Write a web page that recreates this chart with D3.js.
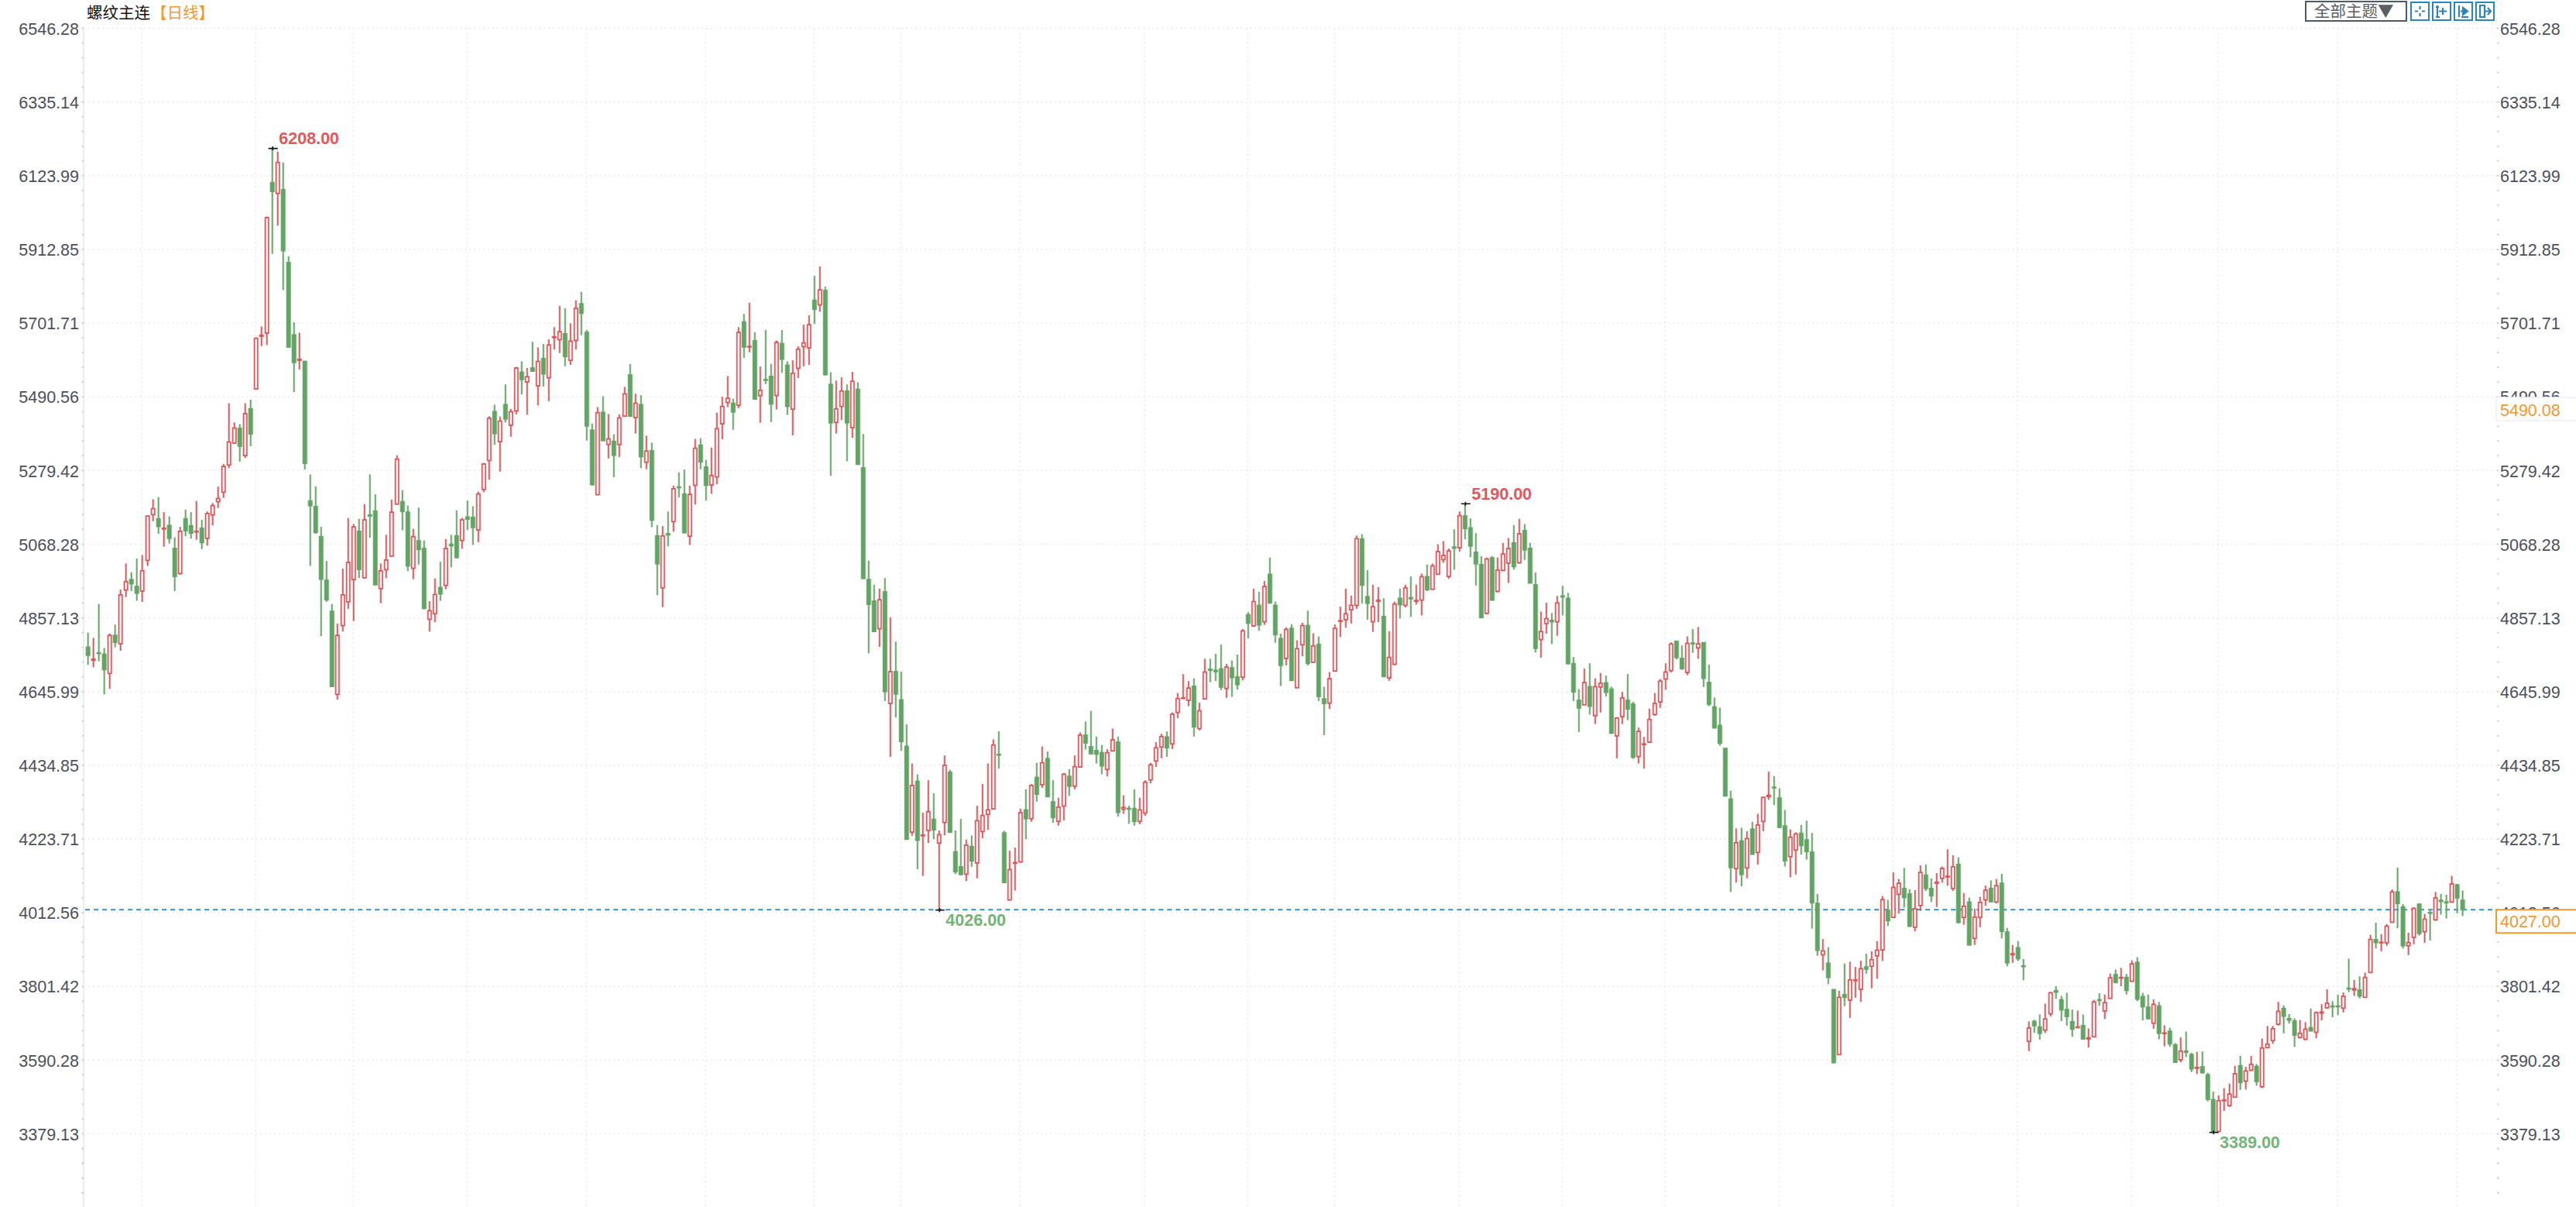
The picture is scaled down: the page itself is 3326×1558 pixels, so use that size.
<!DOCTYPE html>
<html><head><meta charset="utf-8">
<script src="https://cdn.jsdelivr.net/npm/d3@7/dist/d3.min.js"></script>
<style>
html,body{margin:0;padding:0;background:#fff}
svg{display:block}
text{font-family:"Liberation Sans",Arial,sans-serif}
.cjk{font-family:"Noto Sans CJK SC","Liberation Sans",sans-serif}
</style></head><body>
<svg id="c" width="3326" height="1558"></svg>
<script>
const highs=[
4821,4806,4903,4777,4818,4844,4944,5019,4994,5033,
5043,5156,5203,5209,5166,5154,5094,5124,5173,5166,
5198,5144,5168,5192,5239,5304,5478,5423,5418,5478,
5488,5667,5698,6013,6208,6199,6168,5899,5710,5680,
5599,5274,5240,5124,5026,4903,4847,5004,5149,5132,
5147,5189,5274,5217,5019,5101,5202,5329,5229,5185,
5118,5179,5085,4911,4976,5024,5089,5101,5171,5150,
5199,5183,5225,5307,5441,5474,5440,5532,5462,5582,
5598,5579,5654,5638,5648,5661,5696,5757,5750,5707,
5773,5797,5688,5420,5467,5498,5447,5389,5446,5525,
5590,5505,5501,5385,5365,5129,5126,5168,5242,5280,
5288,5242,5376,5378,5316,5351,5451,5497,5556,5491,
5696,5734,5766,5681,5583,5688,5591,5658,5688,5598,
5601,5641,5703,5730,5843,5870,5812,5567,5543,5552,
5532,5568,5538,5390,5027,4958,4947,4977,4865,4795,
4709,4558,4446,4415,4305,4398,4361,4254,4469,4428,
4254,4287,4228,4240,4325,4387,4446,4515,4538,4253,
4196,4205,4317,4372,4387,4448,4495,4480,4398,4348,
4419,4430,4469,4535,4566,4597,4523,4499,4487,4546,
4523,4355,4325,4372,4348,4398,4448,4507,4531,4538,
4593,4648,4702,4682,4690,4620,4746,4746,4760,4787,
4731,4741,4758,4831,4880,4947,4938,4969,5036,4910,
4818,4836,4845,4799,4849,4884,4819,4810,4666,4708,
4844,4895,4947,4927,5099,5103,5000,4958,4951,4919,
4825,4910,4947,4958,4982,4958,4990,5016,5019,5074,
5083,5062,5117,5168,5190,5148,5106,5040,5036,5040,
5036,5078,5092,5129,5147,5132,5078,4993,4881,4907,
4877,4926,4955,4935,4751,4659,4718,4733,4690,4705,
4698,4666,4579,4651,4702,4623,4549,4522,4603,4648,
4688,4733,4793,4798,4784,4810,4831,4837,4792,4729,
4635,4606,4491,4368,4260,4262,4252,4279,4302,4349,
4423,4410,4375,4313,4257,4249,4270,4282,4247,4072,
3943,3920,3799,3795,3873,3878,3863,3881,3901,3908,
3937,4066,4055,4134,4115,4147,4086,4083,4154,4157,
4117,4132,4151,4200,4183,4177,4075,4062,4030,4064,
4096,4111,4115,4130,3975,3926,3937,3886,3707,3712,
3727,3758,3792,3808,3780,3789,3741,3738,3727,3687,
3769,3788,3784,3844,3856,3860,3843,3882,3891,3789,
3784,3770,3763,3696,3689,3645,3662,3678,3617,3620,
3621,3560,3506,3495,3516,3529,3580,3608,3577,3608,
3585,3658,3694,3694,3763,3753,3728,3716,3711,3705,
3744,3736,3756,3799,3765,3784,3790,3887,3826,3836,
3847,3955,3990,3957,3986,4085,4148,4043,3961,4034,
4044,4015,4027,4078,4072,4070,4124,4101,4082];
const lows=[
4729,4722,4739,4644,4660,4779,4769,4923,4940,4912,
4909,5012,5140,5104,5067,5076,4940,4987,5097,5090,
5087,5060,5070,5128,5178,5207,5292,5362,5311,5321,
5355,5517,5642,5645,5906,5987,5802,5639,5510,5575,
5288,5012,5104,4811,4909,4665,4629,4824,4889,4854,
4977,4977,5093,4958,4905,4977,5040,5189,5114,4997,
4974,5016,4890,4824,4851,4912,4945,5008,5034,5061,
5115,5072,5080,5223,5259,5359,5282,5423,5382,5446,
5503,5445,5569,5472,5526,5484,5632,5622,5584,5588,
5632,5673,5371,5242,5216,5371,5320,5266,5324,5441,
5441,5391,5292,5289,5123,4928,4894,5068,5110,5208,
5107,5072,5188,5289,5199,5219,5246,5375,5467,5402,
5464,5608,5624,5488,5422,5533,5424,5460,5565,5445,
5386,5550,5584,5588,5705,5740,5558,5270,5391,5430,
5312,5379,5302,4976,4762,4824,4780,4625,4465,4578,
4482,4229,4239,4143,4124,4218,4229,4026,4240,4249,
4129,4126,4109,4150,4117,4232,4256,4315,4431,4105,
4054,4082,4162,4229,4279,4337,4376,4351,4276,4268,
4283,4353,4372,4434,4486,4473,4446,4415,4409,4482,
4294,4302,4273,4268,4272,4296,4389,4436,4461,4465,
4487,4576,4631,4610,4523,4541,4629,4679,4682,4656,
4634,4637,4658,4684,4804,4840,4826,4843,4904,4792,
4668,4727,4684,4662,4753,4727,4734,4625,4527,4602,
4710,4808,4835,4847,4889,4904,4858,4823,4851,4695,
4683,4728,4861,4893,4866,4901,4870,4940,4944,4987,
5021,4975,5001,5053,5088,5037,4956,4862,4873,4913,
4936,4998,4963,5001,5018,5029,4963,4764,4749,4818,
4788,4812,4870,4730,4625,4536,4614,4586,4559,4592,
4638,4531,4461,4559,4570,4459,4446,4431,4505,4583,
4605,4657,4707,4744,4714,4699,4763,4746,4665,4610,
4548,4497,4353,4078,4105,4094,4117,4185,4156,4252,
4342,4327,4262,4151,4120,4128,4185,4171,3973,3895,
3853,3814,3587,3611,3751,3717,3775,3763,3844,3802,
3829,3880,3980,4003,4016,4033,3977,3965,4024,4081,
4049,4035,4105,4096,4081,3987,3984,3926,3926,3977,
4038,4048,4045,3945,3865,3875,3880,3825,3622,3674,
3655,3674,3721,3772,3708,3695,3663,3690,3655,3632,
3662,3752,3714,3773,3816,3808,3784,3821,3765,3710,
3713,3686,3656,3636,3634,3590,3590,3605,3562,3556,
3558,3478,3389,3390,3451,3462,3490,3511,3512,3565,
3523,3516,3631,3643,3695,3673,3701,3634,3658,3653,
3679,3659,3710,3743,3719,3725,3733,3791,3780,3773,
3776,3847,3916,3908,3924,3990,3974,3916,3897,3928,
3953,3932,3939,3995,4013,4002,4047,4017,4009];
const opens=[
4779,4742,4763,4759,4704,4813,4789,4943,4973,4953,
4940,5028,5159,5147,5118,5128,5062,4990,5147,5127,
5110,5120,5091,5158,5196,5223,5301,5364,5406,5328,
5462,5519,5670,5679,6110,6079,6090,5881,5674,5601,
5598,5198,5182,5096,4971,4882,4644,4841,4909,4973,
5111,4978,5158,5169,4947,5001,5040,5189,5196,5166,
5005,5084,5062,4859,4875,4950,4956,5074,5098,5085,
5152,5151,5115,5231,5314,5454,5368,5474,5415,5456,
5567,5539,5579,5528,5606,5551,5667,5660,5677,5601,
5658,5763,5681,5401,5216,5452,5360,5369,5360,5441,
5559,5437,5474,5309,5342,5098,4949,5104,5139,5238,
5218,5097,5243,5358,5295,5244,5267,5419,5480,5478,
5472,5711,5640,5657,5500,5546,5555,5500,5649,5587,
5461,5578,5640,5637,5773,5760,5801,5532,5423,5469,
5513,5408,5518,5293,4973,4911,4832,4938,4618,4709,
4628,4495,4249,4395,4239,4254,4286,4218,4277,4421,
4193,4150,4129,4208,4161,4251,4300,4316,4472,4247,
4055,4161,4164,4313,4288,4406,4385,4460,4336,4280,
4324,4409,4381,4436,4527,4494,4483,4477,4429,4482,
4507,4315,4317,4317,4280,4304,4399,4453,4493,4522,
4502,4592,4633,4627,4667,4546,4631,4716,4713,4717,
4661,4720,4694,4693,4872,4840,4899,4852,4988,4899,
4804,4747,4833,4663,4786,4841,4736,4787,4631,4619,
4711,4853,4858,4886,4899,5089,4924,4852,4911,4867,
4691,4730,4919,4899,4921,4911,4914,4981,4945,4988,
5030,4982,5066,5064,5155,5121,5051,5016,4876,5035,
4939,4999,5020,5078,5021,5113,5062,4958,4801,4847,
4856,4852,4926,4919,4732,4627,4614,4666,4583,4665,
4677,4659,4525,4580,4627,4616,4466,4501,4507,4586,
4622,4688,4712,4796,4747,4707,4791,4777,4792,4678,
4608,4555,4489,4344,4145,4224,4147,4258,4191,4280,
4351,4378,4347,4267,4179,4198,4246,4227,4192,4045,
3898,3874,3798,3612,3784,3768,3824,3799,3863,3865,
3895,3912,4025,4005,4071,4088,4072,3977,4039,4126,
4088,4103,4117,4121,4088,4157,4005,4049,3945,4005,
4055,4088,4049,4103,3963,3898,3918,3866,3650,3707,
3691,3682,3729,3795,3769,3741,3706,3690,3695,3657,
3663,3769,3737,3773,3841,3831,3833,3822,3876,3778,
3748,3702,3751,3673,3679,3640,3597,3622,3612,3573,
3577,3554,3483,3392,3480,3466,3490,3580,3536,3567,
3578,3520,3632,3652,3699,3744,3715,3708,3661,3656,
3689,3676,3731,3746,3751,3751,3745,3802,3797,3797,
3776,3847,3941,3933,3932,3991,4078,4035,3924,3948,
4043,3964,4019,3998,4054,4049,4049,4098,4054];
const closes=[
4756,4745,4762,4715,4813,4793,4929,4967,4961,4934,
4998,5155,5176,5125,5120,5091,4982,5111,5113,5106,
5111,5079,5162,5185,5205,5297,5367,5407,5355,5448,
5390,5664,5673,6010,6085,6168,5915,5639,5595,5604,
5306,5185,5108,4974,4915,4667,4813,4929,5022,5124,
5002,5144,5155,4958,4998,5029,5166,5318,5168,5012,
5096,5059,4890,4884,4930,4932,5062,5070,5036,5144,
5146,5122,5218,5304,5435,5391,5427,5433,5454,5579,
5546,5554,5570,5598,5562,5645,5668,5683,5612,5656,
5750,5736,5413,5245,5451,5371,5376,5329,5436,5505,
5441,5478,5325,5341,5143,5018,5098,5101,5233,5237,
5107,5217,5349,5310,5243,5271,5405,5469,5492,5453,
5681,5639,5641,5490,5515,5544,5476,5652,5604,5469,
5564,5633,5651,5703,5747,5803,5560,5422,5462,5513,
5422,5541,5303,4976,4902,4824,4915,4652,4709,4645,
4509,4229,4383,4226,4241,4308,4256,4242,4441,4249,
4136,4128,4212,4167,4282,4297,4313,4499,4471,4105,
4142,4162,4305,4288,4383,4358,4448,4351,4291,4321,
4415,4381,4437,4527,4505,4474,4473,4439,4477,4514,
4306,4320,4316,4280,4313,4392,4442,4491,4523,4491,
4587,4632,4634,4662,4551,4597,4708,4713,4709,4665,
4722,4692,4672,4826,4848,4910,4843,4953,4906,4815,
4727,4830,4684,4775,4841,4733,4783,4638,4618,4689,
4833,4855,4875,4899,5090,4957,4905,4895,4914,4695,
4750,4903,4901,4949,4918,4913,4981,4944,5012,5053,
5042,5055,5063,5156,5119,5069,5018,4864,5032,4914,
5000,5046,5062,5010,5104,5058,4963,4776,4824,4861,
4852,4906,4923,4732,4651,4605,4678,4610,4666,4676,
4650,4533,4576,4634,4602,4464,4538,4502,4572,4618,
4682,4708,4788,4750,4718,4790,4789,4789,4690,4616,
4548,4504,4353,4148,4219,4128,4231,4186,4270,4349,
4355,4377,4263,4167,4235,4244,4211,4194,4047,3911,
3909,3833,3589,3776,3776,3826,3826,3858,3857,3884,
3911,4056,3996,4091,4103,4062,3980,4030,4134,4088,
4067,4106,4145,4123,4150,3991,4037,3926,4006,4048,
4083,4050,4096,3965,3875,3901,3887,3865,3688,3695,
3673,3714,3789,3791,3740,3721,3685,3691,3657,3660,
3763,3768,3761,3832,3819,3833,3796,3872,3771,3749,
3715,3756,3673,3674,3643,3590,3622,3619,3571,3575,
3560,3484,3391,3480,3482,3499,3557,3532,3565,3584,
3535,3631,3642,3686,3736,3722,3711,3668,3673,3685,
3680,3732,3734,3759,3749,3750,3779,3801,3801,3780,
3833,3942,3933,3934,3980,4078,4045,3924,3933,4031,
3959,4000,4018,4061,4051,4047,4101,4061,4027];

const tickValues=[6546.28,6335.14,6123.99,5912.85,5701.71,5490.56,5279.42,5068.28,4857.13,4645.99,4434.85,4223.71,4012.56,3801.42,3590.28,3379.13];
const gridCandles=[10,31,49,70,92,114,134,150,172,195,214,230,253,272,291,312,333,356,377,393,415,437];
const extremeCandles=[34,254,157,392];
const extremeKinds=["high","high","low","low"];
const titleText="螺纹主连";
const periodText="【日线】";
const themeText="全部主题▼";
const lastPrice=4027.00;
const hiddenPrice=5490.08;

const RED="#d9565a",GREEN="#62a564",TEXT="#4b505c",ORANGE="#f3982f",GRID="#ececec",BLUE="#2f93d6";
const L=108,R=3225,TOP=36.5,BOT=1558,TICK_SHIFT=-2.7;

const svg=d3.select("#c");
const x=d3.scaleLinear().domain([0,highs.length-1]).range([113.6,3179.6]);
const y=d3.scaleLinear().domain([3379.13,6546.28]).range([1466.2,39.2]);

// frame + grid
const gridG=svg.append("g");
gridG.append("line").attr("x1",L).attr("x2",L).attr("y1",TOP).attr("y2",BOT).attr("stroke","#e6e6e6").attr("stroke-width",1.5);
gridG.selectAll(".h").data(tickValues).join("line")
  .attr("x1",L).attr("x2",R)
  .attr("y1",d=>y(d)+TICK_SHIFT).attr("y2",d=>y(d)+TICK_SHIFT)
  .attr("stroke",GRID).attr("stroke-width",1.5).attr("stroke-dasharray","2 4");
gridG.selectAll(".v").data(gridCandles).join("line")
  .attr("x1",d=>x(d)-0.5).attr("x2",d=>x(d)-0.5).attr("y1",TOP).attr("y2",BOT)
  .attr("stroke",GRID).attr("stroke-width",1.5).attr("stroke-dasharray","2 4");

// minor tick dots on both axes
const step=(tickValues[0]-tickValues[1])/5;
const minor=d3.range(0,24*5-30).map(k=>tickValues[0]-k*step).filter(v=>y(v)+TICK_SHIFT<BOT);
minor.push(...d3.range(1,5).map(k=>tickValues[15]-k*step));
[L-1.5,R].forEach(ax=>{
  svg.append("g").selectAll("rect").data(minor).join("rect")
    .attr("x",ax-1).attr("width",2.5).attr("y",d=>y(d)+TICK_SHIFT-1).attr("height",2).attr("fill","#d4d4d4");
});

// axes
const fmt=d3.format(".2f");
const axL=svg.append("g").attr("transform",`translate(${L},${TICK_SHIFT})`)
  .call(d3.axisLeft(y).tickValues(tickValues).tickFormat(fmt).tickSize(0).tickPadding(6));
const axR=svg.append("g").attr("transform",`translate(${R},${TICK_SHIFT})`)
  .call(d3.axisRight(y).tickValues(tickValues).tickFormat(fmt).tickSize(0).tickPadding(3));
[axL,axR].forEach(a=>{
  a.select(".domain").remove();
  a.selectAll("text").attr("fill",TEXT).attr("font-size",21.5).attr("font-family",'"Liberation Sans",Arial,sans-serif').attr("dy","0.36em");
});

// last price line
svg.append("line").attr("x1",L+2).attr("x2",R).attr("y1",y(lastPrice)).attr("y2",y(lastPrice))
  .attr("stroke",BLUE).attr("stroke-width",2).attr("stroke-dasharray","6 5");

// candles
const idx=d3.range(highs.length);
const cs=svg.append("g").selectAll("g").data(idx).join("g");
const col=i=>closes[i]>=opens[i]?RED:GREEN;
cs.append("line")
  .attr("x1",i=>x(i)).attr("x2",i=>x(i))
  .attr("y1",i=>y(highs[i])).attr("y2",i=>y(lows[i]))
  .attr("stroke",col).attr("stroke-width",2);
cs.append("rect")
  .attr("x",i=>x(i)-2.1).attr("width",4.2)
  .attr("y",i=>y(Math.max(opens[i],closes[i])))
  .attr("height",i=>Math.max(0.8,y(Math.min(opens[i],closes[i]))-y(Math.max(opens[i],closes[i]))))
  .attr("fill",i=>closes[i]>=opens[i]?"#fff":GREEN)
  .attr("stroke",col).attr("stroke-width",1.8);

// extreme markers
const mk=svg.append("g").selectAll("g").data(extremeCandles).join("g");
const ey=(d,j)=>y(extremeKinds[j]==="high"?highs[d]:lows[d]);
mk.append("path")
  .attr("d",(d,j)=>{const X=x(d)+1,Y=ey(d,j);return `M${X-6},${Y}H${X+6}M${X-0.5},${Y-2.5}V${Y+2.5}`;})
  .attr("stroke","#10131c").attr("stroke-width",1.6).attr("fill","none");
mk.append("text")
  .attr("x",d=>x(d)+8.5)
  .attr("y",(d,j)=>ey(d,j)+(extremeKinds[j]==="high"?-13:13))
  .attr("dy","0.36em")
  .attr("font-size",21.5).attr("font-weight","bold")
  .attr("fill",(d,j)=>extremeKinds[j]==="high"?"#e0595b":"#74b476")
  .text((d,j)=>fmt(extremeKinds[j]==="high"?highs[d]:lows[d]));

// price boxes
svg.append("rect").attr("x",3223).attr("y",513).attr("width",110).attr("height",30).attr("fill","#fff").attr("stroke","#eef1f6").attr("stroke-width",1.5);
svg.append("text").attr("x",3228).attr("y",529).attr("dy","0.36em").attr("font-size",21.5).attr("fill",ORANGE).text(fmt(hiddenPrice));
svg.append("rect").attr("x",3223).attr("y",y(lastPrice)).attr("width",110).attr("height",30).attr("fill","#fff").attr("stroke",ORANGE).attr("stroke-width",2);
svg.append("text").attr("x",3228).attr("y",y(lastPrice)+15).attr("dy","0.36em").attr("font-size",21.5).attr("fill",ORANGE).text(fmt(lastPrice));

// title
svg.append("text").attr("class","cjk").attr("x",112).attr("y",17).attr("dy","0.36em").attr("font-size",20.5).attr("fill","#111").text(titleText);
svg.append("text").attr("class","cjk").attr("x",195).attr("y",17).attr("dy","0.36em").attr("font-size",20.5).attr("fill",ORANGE).text(periodText);

// toolbar
const tb=svg.append("g");
tb.append("rect").attr("x",2977).attr("y",2).attr("width",130).attr("height",25).attr("fill","#fff").attr("stroke","#4d5a68").attr("stroke-width",2);
tb.append("text").attr("class","cjk").attr("x",2988).attr("y",15).attr("dy","0.36em").attr("font-size",20.5).attr("fill","#5a5f66").text(themeText);
const iconX=[3113,3141,3169,3197];
const iconPaths=[
  "M5,11.5H9M14,11.5H18M11.5,5V9M11.5,14V18",
  "M6,4V19M4,6H8M4,19H9M8,11.5H18M13,7V16",
  "M6,4V19M9,19H18M8,11.5H10M11,7L17,11.5L11,16Z",
  "M5,4H11V19H5ZM11,11.5H19M15,7L19,11.5L15,16"
];
tb.selectAll(".ic").data(iconX).join("g").attr("transform",d=>`translate(${d},3)`)
  .each(function(d,i){
    const g=d3.select(this);
    g.append("rect").attr("width",23).attr("height",23).attr("fill","#fff").attr("stroke","#2a85c4").attr("stroke-width",2);
    g.append("path").attr("d",iconPaths[i]).attr("fill",i===2?"#2a85c4":"none").attr("stroke","#2a85c4").attr("stroke-width",2.2);
  });
</script>
</body></html>
